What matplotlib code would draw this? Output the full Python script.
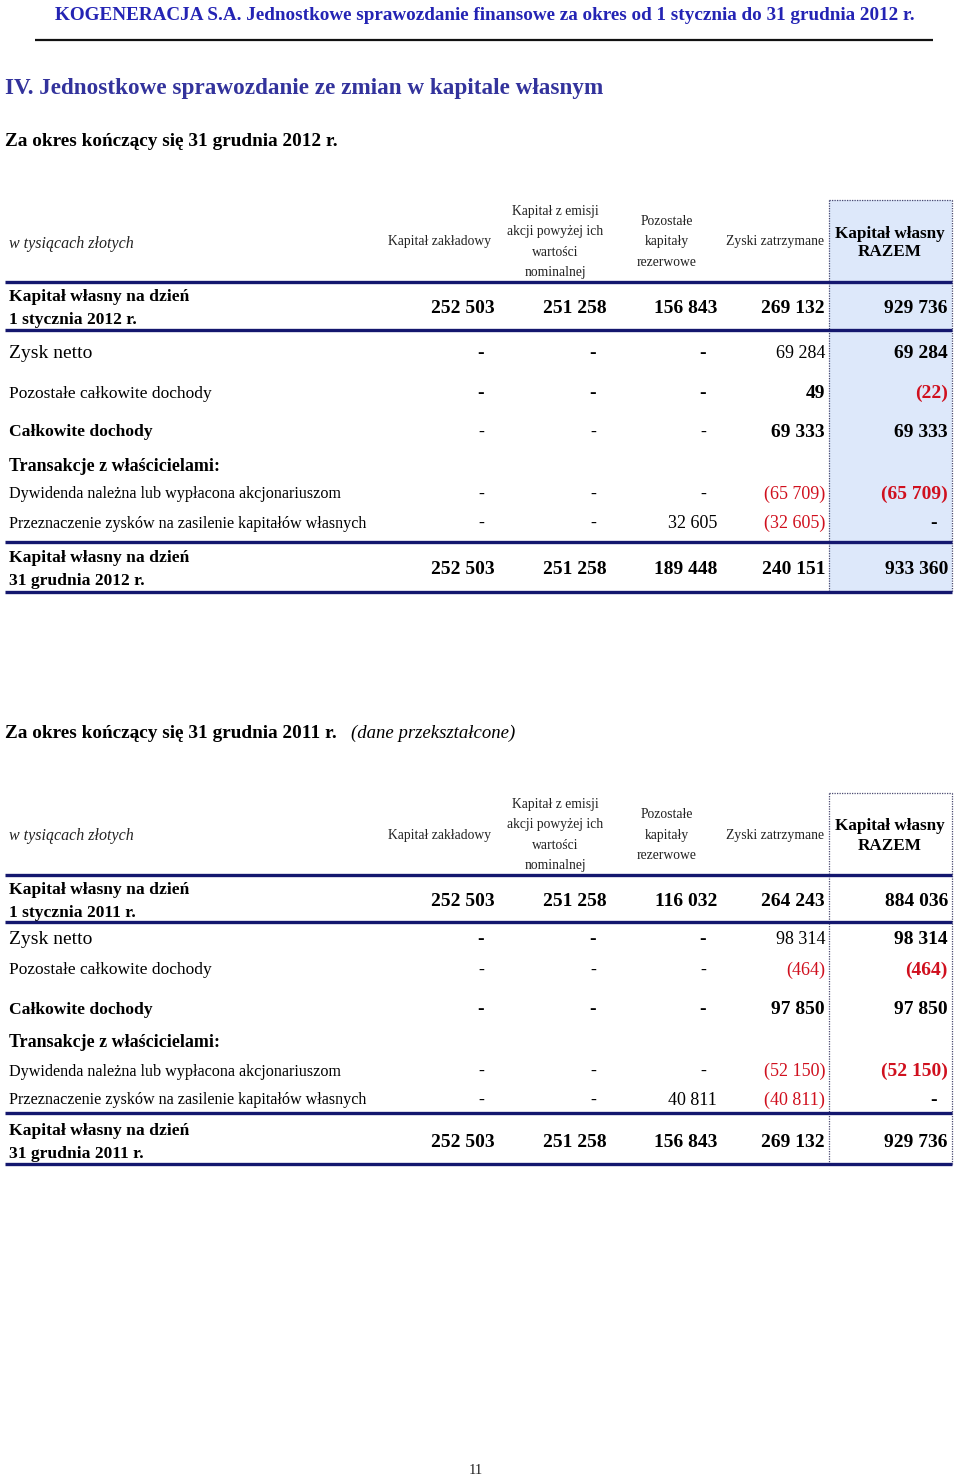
import matplotlib
matplotlib.use("Agg")
import matplotlib.pyplot as plt
from matplotlib.patches import Rectangle

# ---------------- data ----------------
page_header = "KOGENERACJA S.A. Jednostkowe sprawozdanie finansowe za okres od 1 stycznia do 31 grudnia 2012 r."
section_title = "IV. Jednostkowe sprawozdanie ze zmian w kapitale własnym"
period_2012 = "Za okres kończący się 31 grudnia 2012 r."
period_2011 = "Za okres kończący się 31 grudnia 2011 r."
period_2011_note = "(dane przekształcone)"
unit_label = "w tysiącach złotych"
page_number = "11"

column_headers = [
    "Kapitał zakładowy",
    "Kapitał z emisji\nakcji powyżej ich\nwartości\nnominalnej",
    "Pozostałe\nkapitały\nrezerwowe",
    "Zyski zatrzymane",
    "Kapitał własny\nRAZEM",
]

row_labels_2012 = [
    "Kapitał własny na dzień\n1 stycznia 2012 r.",
    "Zysk netto",
    "Pozostałe całkowite dochody",
    "Całkowite dochody",
    "Transakcje z właścicielami:",
    "Dywidenda należna lub wypłacona akcjonariuszom",
    "Przeznaczenie zysków na zasilenie kapitałów własnych",
    "Kapitał własny na dzień\n31 grudnia 2012 r.",
]
row_labels_2011 = [
    "Kapitał własny na dzień\n1 stycznia 2011 r.",
    "Zysk netto",
    "Pozostałe całkowite dochody",
    "Całkowite dochody",
    "Transakcje z właścicielami:",
    "Dywidenda należna lub wypłacona akcjonariuszom",
    "Przeznaczenie zysków na zasilenie kapitałów własnych",
    "Kapitał własny na dzień\n31 grudnia 2011 r.",
]

opening_2012 = [252503, 251258, 156843, 269132, 929736]
net_profit_2012 = [0, 0, 0, 69284, 69284]
oci_2012 = [0, 0, 0, 49, -22]
total_income_2012 = [0, 0, 0, 69333, 69333]
owners_2012 = None
dividend_2012 = [0, 0, 0, -65709, -65709]
allocation_2012 = [0, 0, 32605, -32605, 0]
closing_2012 = [252503, 251258, 189448, 240151, 933360]

opening_2011 = [252503, 251258, 116032, 264243, 884036]
net_profit_2011 = [0, 0, 0, 98314, 98314]
oci_2011 = [0, 0, 0, -464, -464]
total_income_2011 = [0, 0, 0, 97850, 97850]
owners_2011 = None
dividend_2011 = [0, 0, 0, -52150, -52150]
allocation_2011 = [0, 0, 40811, -40811, 0]
closing_2011 = [252503, 251258, 156843, 269132, 929736]

values_2012 = [opening_2012, net_profit_2012, oci_2012, total_income_2012,
               owners_2012, dividend_2012, allocation_2012, closing_2012]
values_2011 = [opening_2011, net_profit_2011, oci_2011, total_income_2011,
               owners_2011, dividend_2011, allocation_2011, closing_2011]

# ---------------- styles ----------------
SERIF = ["Liberation Serif", "DejaVu Serif"]
NAVY = "#14176e"
BLUE = "#2424b4"
TITLE_BLUE = "#33339c"
RED = "#d0101e"
FILL = "#dde8fa"

# bold flags per cell (B = bold, n = normal)
bold_2012 = ["BBBBB", "BBBnB", "BBBBB", "nnnBB", None, "nnnnB", "nnnnB", "BBBBB"]
bold_2011 = ["BBBBB", "BBBnB", "nnnnB", "BBBBB", None, "nnnnB", "nnnnB", "BBBBB"]
label_style = [("bold", 12.6), ("normal", 14), ("normal", 12.5), ("bold", 12.6),
               ("bold", 13), ("normal", 11.6), ("normal", 11.65), ("bold", 12.6)]

col_right = [495, 607, 717, 825, 948]
col_center = [440, 555, 667, 775, 890]
DY = 1.5  # visual centering offset for text

fig = plt.figure(figsize=(9.6, 14.76), dpi=100)
ax = fig.add_axes([0, 0, 1, 1])
ax.set_xlim(0, 960)
ax.set_ylim(1476, 0)
ax.axis("off")


def fmt(v):
    if v == 0:
        return "-"
    s = f"{abs(v):,}".replace(",", " ")
    return f"({s})" if v < 0 else s


# page header
ax.text(485, 14 + DY, page_header, ha="center", va="center", color=BLUE,
        fontsize=13.75, fontweight="bold", family=SERIF)
ax.plot([35, 933], [40, 40], color="#111111", lw=1.6, solid_capstyle="butt")
ax.text(5, 87 + DY, section_title, ha="left", va="center", color=TITLE_BLUE,
        fontsize=16.7, fontweight="bold", family=SERIF)
ax.text(5, 140 + DY, period_2012, ha="left", va="center", color="black",
        fontsize=13.9, fontweight="bold", family=SERIF)
ax.text(5, 732 + DY, period_2011, ha="left", va="center", color="black",
        fontsize=13.9, fontweight="bold", family=SERIF)
ax.text(351, 732 + DY, period_2011_note, ha="left", va="center", color="black",
        fontsize=13.5, fontstyle="italic", family=SERIF)
ax.text(476, 1469 + DY, page_number, ha="center", va="center", color="#222222",
        fontsize=10.5, family=SERIF)


def draw_table(top, bottom, fill):
    hdr_mid = top + 42
    if fill:
        ax.add_patch(Rectangle((829, top), 123, bottom - top,
                               facecolor=FILL, edgecolor="none", zorder=0))
    for xs, ys in [([829, 829], [top, bottom]), ([952, 952], [top, bottom]),
                   ([829, 952], [top, top])]:
        ax.plot(xs, ys, color="#4a4a70", lw=0.9, ls=(0, (1, 1)), zorder=1)

    ax.text(9, hdr_mid + DY, unit_label, ha="left", va="center", fontsize=11.5,
            fontstyle="italic", family=SERIF, color="#222222")
    for i, h in enumerate(column_headers):
        if i == 4:
            ax.text(col_center[i], hdr_mid + 1, h, ha="center", va="center",
                    fontsize=12.3, fontweight="bold", family=SERIF,
                    linespacing=1.25)
        else:
            ax.text(col_center[i], hdr_mid, h, ha="center", va="center",
                    fontsize=9.8, family=SERIF, linespacing=1.75, color="#222222")


def draw_rows(row_y, labels, values, bolds, lstyles, lines):
    for y, lab, vals, b, (w, fs) in zip(row_y, labels, values, bolds, lstyles):
        ax.text(9, y + DY, lab, ha="left", va="center", fontsize=fs, fontweight=w,
                family=SERIF, linespacing=1.6)
        if vals is None:
            continue
        for i, v in enumerate(vals):
            weight = "bold" if b[i] == "B" else "normal"
            color = RED if v < 0 else "black"
            x = col_right[i] - (11 if v == 0 else 0)
            size = 14 if weight == "bold" else 13
            ax.text(x, y + DY, fmt(v), ha="right", va="center", fontsize=size,
                    fontweight=weight, color=color, family=SERIF)
    for y in lines:
        ax.plot([5, 952], [y, y], color=NAVY, lw=2.4, solid_capstyle="butt", zorder=2)


# table 2012
draw_table(200, 592, True)
draw_rows([307, 352, 392, 431, 465, 493, 522, 568],
          row_labels_2012, values_2012, bold_2012, label_style,
          [282, 330, 542, 592])

# table 2011
draw_table(793, 1164, False)
draw_rows([900, 938, 969, 1008, 1041, 1070, 1099, 1141],
          row_labels_2011, values_2011, bold_2011, label_style,
          [875, 922, 1113, 1164])

fig.savefig("out.png", dpi=100, facecolor="white")
